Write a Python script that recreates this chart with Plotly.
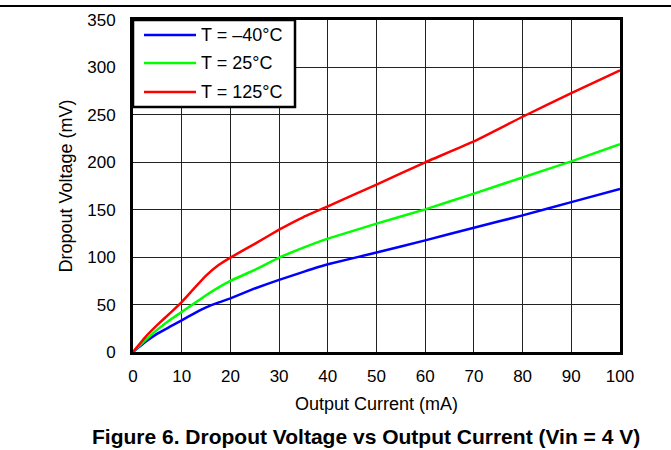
import plotly.graph_objects as go

# Output current (mA) sample points
current_ma = [0, 2.5, 5, 7.5, 10, 12.5, 15, 17.5, 20, 25, 30, 35, 40, 50, 60, 70, 80, 90, 100]

# Dropout voltage (mV) at each temperature
dropout_m40 = [0, 10.5, 19.4, 26.4, 33.4, 40.5, 47, 52, 56.5, 67, 76, 84.5, 92.5,
               104.8, 117.7, 131, 144, 158, 172]
dropout_25 = [0, 12.3, 23.6, 33.4, 42.2, 51, 59.8, 67.9, 75, 86.5, 99.5, 110, 119.5,
              135.3, 150.4, 167, 184, 201, 219]
dropout_125 = [0, 15.5, 28.5, 40.5, 52.7, 66.8, 80.5, 91.4, 99.5, 114, 129, 142.3, 153.5,
               176.5, 200, 222, 248, 273, 297]

series_names = ["T = \u201340\u00b0C", "T = 25\u00b0C", "T = 125\u00b0C"]
series_colors = ["#0000FF", "#00FF00", "#FF0000"]

x_ticks = list(range(0, 101, 10))
y_ticks = list(range(0, 351, 50))

FONT = "Liberation Sans, Arial, sans-serif"

# plot-area geometry in pixels, used to place the legend box and caption
L, R, T, B = 133, 51, 20, 98
PW, PH = 671 - L - R, 450 - T - B


def px_x(px):
    return (px - L) / PW


def px_y(py):
    return (450 - B - py) / PH


fig = go.Figure()
for name, ys, color in zip(series_names, [dropout_m40, dropout_25, dropout_125], series_colors):
    fig.add_trace(go.Scatter(
        x=current_ma, y=ys, mode="lines", name=name, showlegend=False,
        line=dict(color=color, width=2.5, shape="spline", smoothing=0.3),
    ))

fig.update_layout(
    width=671, height=450,
    margin=dict(l=L, r=R, t=T, b=B),
    paper_bgcolor="white", plot_bgcolor="white",
    font=dict(family=FONT, color="black", size=17),
    xaxis=dict(
        range=[0, 100], tickvals=x_ticks, ticks="", showgrid=True,
        gridcolor="#222222", gridwidth=1, zeroline=False,
        showline=True, linecolor="black", linewidth=3, mirror=True,
        tickfont=dict(size=17), ticklabelstandoff=7,
        title=dict(text="Output Current (mA)", font=dict(size=18), standoff=12),
    ),
    yaxis=dict(
        range=[0, 350], tickvals=y_ticks, ticks="", showgrid=True,
        gridcolor="#222222", gridwidth=1, zeroline=False,
        showline=True, linecolor="black", linewidth=3, mirror=True,
        tickfont=dict(size=17), ticklabelstandoff=11,
        title=dict(text="Dropout Voltage (mV)", font=dict(size=18), standoff=10),
    ),
)

# Legend: framed box with line samples and labels in the upper-left corner
fig.add_shape(
    type="rect", xref="paper", yref="paper",
    x0=px_x(133), x1=px_x(295), y0=px_y(107), y1=px_y(20),
    fillcolor="white", line=dict(color="black", width=2.5), layer="above",
)
for name, color, row_y in zip(series_names, series_colors, [35, 63, 92]):
    fig.add_shape(
        type="line", xref="paper", yref="paper",
        x0=px_x(144), x1=px_x(196), y0=px_y(row_y), y1=px_y(row_y),
        line=dict(color=color, width=2.5), layer="above",
    )
    fig.add_annotation(
        text=name, xref="paper", yref="paper", x=px_x(199), y=px_y(row_y),
        xanchor="left", yanchor="middle", showarrow=False,
        font=dict(size=18, family=FONT, color="black"),
    )

# Separator rule across the top of the page
fig.add_shape(
    type="line", xref="paper", yref="paper",
    x0=px_x(0), x1=px_x(671), y0=px_y(6), y1=px_y(6),
    line=dict(color="black", width=2),
)

# Figure caption
fig.add_annotation(
    text="<b>Figure 6. Dropout Voltage vs Output Current (Vin = 4 V)</b>",
    xref="paper", yref="paper", x=px_x(366), y=px_y(436),
    xanchor="center", yanchor="middle", showarrow=False,
    font=dict(size=21, family=FONT, color="black"),
)

fig.write_html("out.html")
